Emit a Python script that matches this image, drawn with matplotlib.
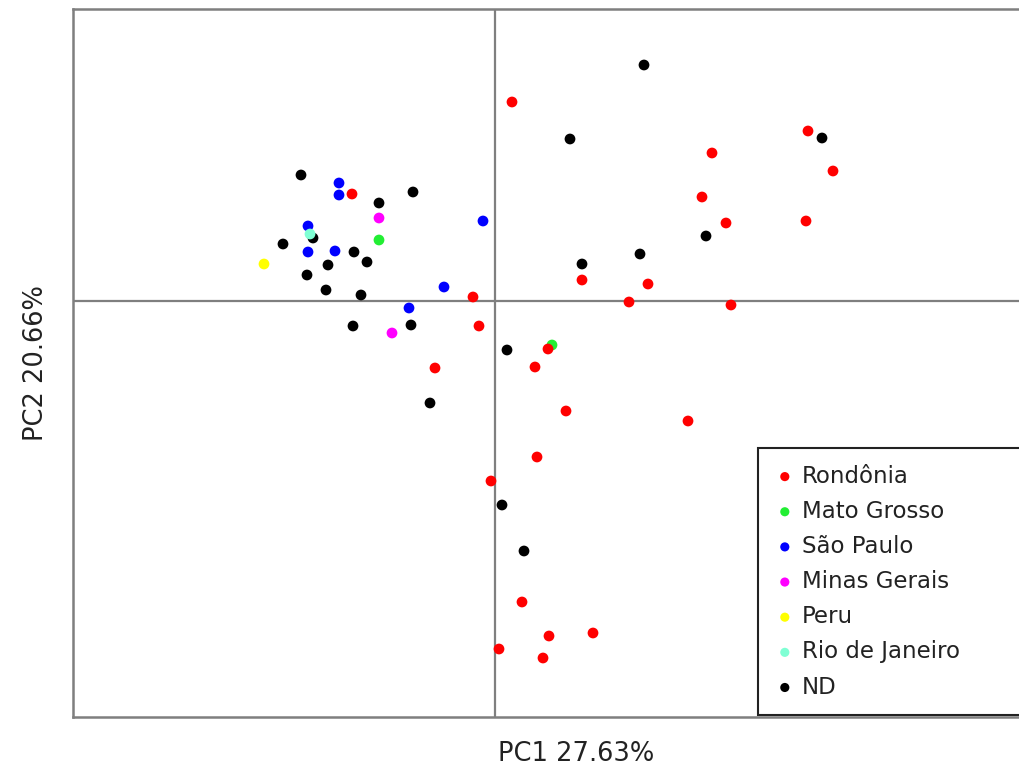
import matplotlib
matplotlib.use("Agg")
import matplotlib.pyplot as plt
import numpy as np

# PCA scores (arbitrary units), grouped by origin
rondonia_x = [-1.43, -0.22, -0.16, 0.53, -0.60, 0.40, 0.71, 0.87, 0.17, 3.13,
              2.17, 3.38, 2.07, 2.31, 3.11, 1.53, 1.34, 2.36, 1.93, 0.42,
              -0.04, 0.27, 0.54, 0.98, 0.04, 0.48]
rondonia_y = [1.07, 0.04, -0.25, -0.48, -0.67, -0.66, -1.10, 0.21, 1.99, 1.70,
              1.48, 1.30, 1.04, 0.78, 0.80, 0.17, -0.01, -0.04, -1.20, -1.56,
              -1.80, -3.01, -3.35, -3.32, -3.48, -3.57]
mato_grosso_x = [-1.16, 0.57]
mato_grosso_y = [0.61, -0.44]
sao_paulo_x = [-1.56, -1.56, -0.12, -1.87, -1.87, -1.60, -0.51, -0.86]
sao_paulo_y = [1.18, 1.06, 0.80, 0.75, 0.49, 0.50, 0.14, -0.07]
minas_gerais_x = [-1.16, -1.03]
minas_gerais_y = [0.83, -0.32]
peru_x = [-2.31]
peru_y = [0.37]
rio_x = [-1.85]
rio_y = [0.67]
nd_x = [-1.94, -0.82, -1.16, -1.82, -2.12, -1.41, -1.67, -1.28, -1.88, -1.69,
        -1.34, -1.42, -0.84, 0.12, -0.65, 1.49, 0.75, 3.27, 2.11, 1.45, 0.87,
        0.07, 0.29]
nd_y = [1.26, 1.09, 0.98, 0.63, 0.57, 0.49, 0.36, 0.39, 0.26, 0.11,
        0.06, -0.25, -0.24, -0.49, -1.02, 2.36, 1.62, 1.63, 0.65, 0.47, 0.37,
        -2.04, -2.50]

groups = [
    ("Rondônia", rondonia_x, rondonia_y, "#ff0000"),
    ("Mato Grosso", mato_grosso_x, mato_grosso_y, "#22ee33"),
    ("São Paulo", sao_paulo_x, sao_paulo_y, "#0000ff"),
    ("Minas Gerais", minas_gerais_x, minas_gerais_y, "#ff00ff"),
    ("Peru", peru_x, peru_y, "#ffff00"),
    ("Rio de Janeiro", rio_x, rio_y, "#7fffd4"),
    ("ND", nd_x, nd_y, "#000000"),
]
draw_order = ["ND", "Mato Grosso", "Rondônia", "São Paulo", "Minas Gerais", "Peru", "Rio de Janeiro"]

W, H = 1019, 773
fig = plt.figure(figsize=(W / 100, H / 100), dpi=100)
ax = fig.add_axes([73 / W, (H - 717) / H, (1080 - 73) / W, (717 - 9) / H])

ax.axhline(0, color="#7f7f7f", lw=1.6, zorder=1)
ax.axvline(0, color="#7f7f7f", lw=1.6, zorder=1)

handles = {}
for name, xs, ys, c in groups:
    z = 3 + draw_order.index(name)
    h = ax.scatter(xs, ys, s=60, color=c, edgecolors="none", zorder=z, label=name)
    handles[name] = h

ax.set_xlim(-4.22, 5.85)
ax.set_ylim(-4.16, 2.92)
ax.set_xticks([])
ax.set_yticks([])
for sp in ax.spines.values():
    sp.set_color("#7f7f7f")
    sp.set_linewidth(1.8)

ax.set_xlabel("PC1 27.63%", fontsize=18.5, labelpad=17, color="#222222")
ax.set_ylabel("PC2 20.66%", fontsize=18.5, labelpad=17, color="#222222")

leg_left = (758 - 73) / (1080 - 73)
leg_bottom = (717 - 715) / (717 - 9)
leg_h = (715 - 447) / (717 - 9)
leg = ax.legend([handles[n] for n, *_ in groups], [n for n, *_ in groups],
                loc="lower left", bbox_to_anchor=(leg_left, leg_bottom, 0.5, leg_h),
                mode="expand", borderaxespad=0, fontsize=16.5, frameon=True,
                fancybox=False, markerscale=0.85, handletextpad=0.3,
                handlelength=0.9, labelspacing=0.53, borderpad=0.72)
leg.get_frame().set_edgecolor("#222222")
leg.get_frame().set_linewidth(1.5)
leg.get_frame().set_alpha(1)
for t in leg.get_texts():
    t.set_color("#222222")

fig.savefig("out.png", dpi=100)
